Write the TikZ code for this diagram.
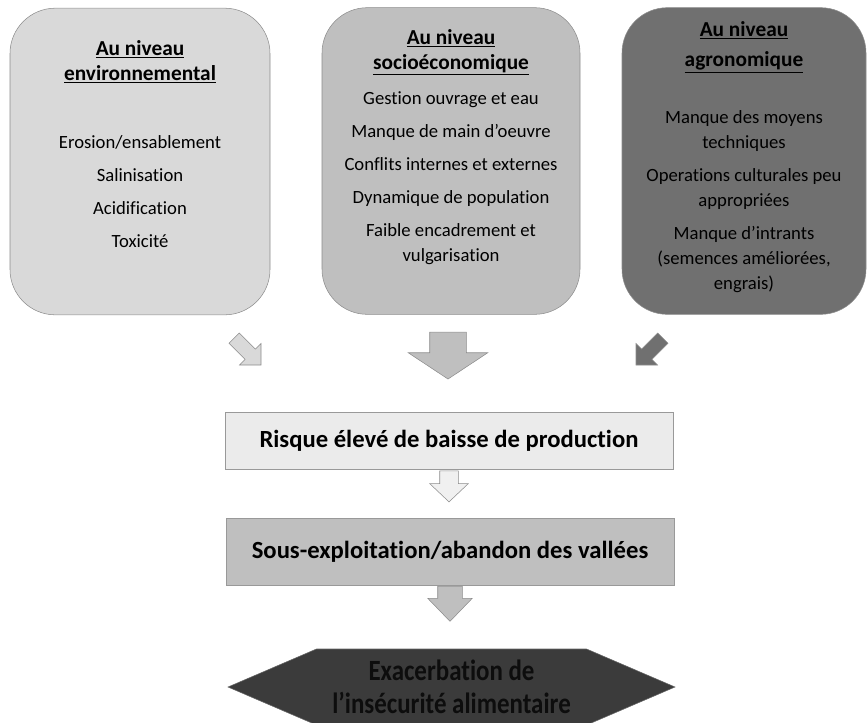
\documentclass[tikz,border=0pt]{standalone}
\usepackage{fontspec}
\usepackage{graphicx}
\setmainfont{Carlito}[Ligatures=NoCommon]
\usetikzlibrary{shapes.arrows,shapes.symbols}

\begin{document}
\begin{tikzpicture}[x=0.75pt, y=-0.75pt,
	% Define the styles for the boxes, texts and arrows
	topbox/.style={draw=black!45, rounded corners=34pt, minimum height=230pt},
	title/.style={anchor=north, align=center, inner sep=0pt, font=\fontsize{16}{18.75}\selectfont\bfseries},
	items/.style={anchor=north, align=center, inner sep=0pt, font=\fontsize{14}{18.75}\selectfont},
	flowbox/.style={draw=black!40, minimum width=336pt, font=\fontsize{18.5}{22}\selectfont\bfseries},
	blockarrow/.style={single arrow, draw=black!45, inner xsep=0pt}
	]
	\useasboundingbox (0,0) rectangle (867,722);
	
	% --- THE THREE LEVELS ---
	% Format: \node (name) at (x,y) [topbox, fill=color] {};
	
	\node (env) at (140,161.5) [topbox, fill=black!15, minimum width=195pt] {};
	\node (soc) at (451,161) [topbox, fill=black!25, minimum width=193.5pt] {};
	\node (agro) at (744,161) [topbox, fill=black!56, minimum width=183pt] {};
	
	\node (envtitle) at (140,40) [title] {\underline{Au niveau}\\\underline{environnemental}};
	\node (soctitle) at (451,29) [title] {\underline{Au niveau}\\\underline{socioéconomique}};
	\node (agrotitle) at (744,21) [title] {\underline{Au niveau}\\[4pt]\underline{agronomique}};
	
	\node (envlist) at (140,135) [items] {Erosion/ensablement\\[6pt]Salinisation\\[6pt]Acidification\\[6pt]Toxicité};
	\node (soclist) at (451,91) [items] {Gestion ouvrage et eau\\[6pt]Manque de main d’oeuvre\\[6pt]Conflits internes et externes\\[6pt]Dynamique de population\\[6pt]Faible encadrement et\\vulgarisation};
	\node (agrolist) at (744,110) [items] {Manque des moyens\\techniques\\[6pt]Operations culturales peu\\appropriées\\[6pt]Manque d’intrants\\(semences améliorées,\\engrais)};
	
	% --- BLOCK ARROWS ---
	% The side arrows point towards the middle; inner ysep gives half the shaft.
	
	\node (arrenv) at (245,349) [blockarrow, fill=black!15, rotate=-45, inner ysep=5.25pt, minimum height=28.5pt, minimum width=22.5pt, single arrow head extend=6pt] {};
	\node (arrsoc) at (448,349.5) [blockarrow, fill=black!25, rotate=-90, inner ysep=13.5pt, minimum height=35.25pt, minimum width=59.25pt, single arrow head extend=16.1pt, single arrow tip angle=113] {};
	\node (arragro) at (652,349) [blockarrow, fill=black!56, rotate=-135, inner ysep=5.25pt, minimum height=28.5pt, minimum width=22.5pt, single arrow head extend=6pt] {};
	
	% --- CONSEQUENCES ---
	
	\node (risk) at (449,440.5) [flowbox, fill=black!8, minimum height=42.75pt] {Risque élevé de baisse de production};
	\node (arrrisk) at (449,482) [blockarrow, fill=black!6, rotate=-90, inner ysep=6.75pt, minimum height=23.25pt, minimum width=28.5pt, single arrow head extend=7.5pt, single arrow tip angle=93] {};
	\node (sous) at (450,551.5) [flowbox, fill=black!25, minimum height=50.25pt] {Sous-exploitation/abandon des vallées};
	\node (arrsous) at (450,597.5) [blockarrow, fill=black!25, rotate=-90, inner ysep=9pt, minimum height=26.25pt, minimum width=33pt, single arrow head extend=7.5pt, single arrow tip angle=88] {};
	
	% Final outcome, a hexagon
	\node (insec) at (451.5,687) [signal, signal to=west and east, signal pointer angle=46.5, fill=black!77, draw=black!60, minimum width=335.25pt, minimum height=57pt, align=center, text=black!95, font=\fontsize{22}{24.75}\selectfont\bfseries] {\scalebox{0.85}[1]{Exacerbation de}\\\scalebox{0.85}[1]{l’insécurité alimentaire}};
	
\end{tikzpicture}
\end{document}
